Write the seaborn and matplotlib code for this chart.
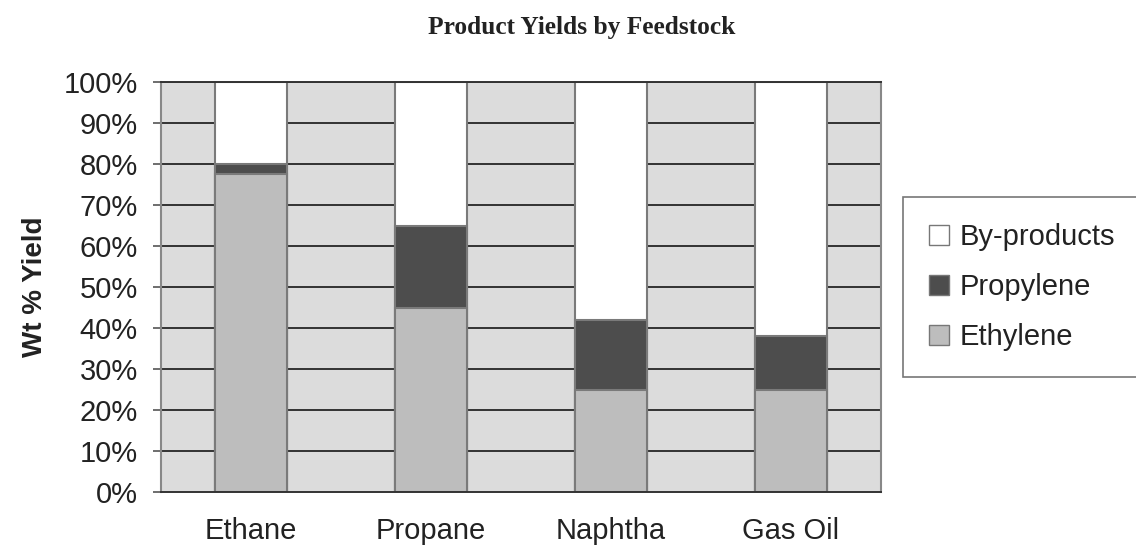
import matplotlib
matplotlib.use("Agg")
import matplotlib.pyplot as plt
import seaborn as sns
import pandas as pd
import numpy as np
from matplotlib.patches import Patch

feedstocks = ["Ethane", "Propane", "Naphtha", "Gas Oil"]
ethylene = [77.5, 45, 25, 25]
propylene = [2.5, 20, 17, 13]
byproducts = [20, 35, 58, 62]

sns.set_theme(style="white")
plt.rcParams['font.family'] = ['Liberation Sans', 'DejaVu Sans']

c_eth = "#bdbdbd"
c_pro = "#4d4d4d"
c_by = "#ffffff"

df = pd.DataFrame({"Feedstock": feedstocks,
                   "Ethylene": ethylene,
                   "Propylene": propylene,
                   "By-products": byproducts})
df["cum_pro"] = df["Ethylene"] + df["Propylene"]
df["cum_by"] = df["cum_pro"] + df["By-products"]

fig = plt.figure(figsize=(11.36, 5.45), dpi=100)
ax = fig.add_axes([161/1136, 1-492/545, 720/1136, 410/545])
ax.set_facecolor("#dcdcdc")

for y in np.arange(10, 101, 10):
    ax.axhline(y, color="#333333", lw=1.4, zorder=0.5)

kw = dict(width=0.4, edgecolor="#7a7a7a", linewidth=1.5, ax=ax, zorder=2, saturation=1)
sns.barplot(data=df, x="Feedstock", y="cum_by", color=c_by, **kw)
sns.barplot(data=df, x="Feedstock", y="cum_pro", color=c_pro, **kw)
sns.barplot(data=df, x="Feedstock", y="Ethylene", color=c_eth, **kw)

ax.set_xlim(-0.5, 3.5)
ax.set_ylim(0, 100)
ax.set_yticks(np.arange(0, 101, 10))
ax.set_yticklabels([f"{v}%" for v in range(0, 101, 10)], fontsize=21, color="#222222")
ax.set_xticks([0, 1, 2, 3])
ax.set_xticklabels(feedstocks, fontsize=21, color="#222222")
ax.set_xticks([-0.5, 0.5, 1.5, 2.5, 3.5], minor=True)
ax.tick_params(axis="x", which="major", length=0, pad=18)
ax.tick_params(axis="x", which="minor", length=5.5, width=1.2, color="#333333", direction="out")
ax.tick_params(axis="y", length=5.8, width=1.2, color="#555555", direction="out", left=True, pad=11)
ax.set_xlabel("")
ax.set_ylabel("Wt % Yield", fontsize=20, fontweight="bold", labelpad=11, color="#222222")

for s in ["left", "right"]:
    ax.spines[s].set_color("#888888")
    ax.spines[s].set_linewidth(1.5)
ax.spines["bottom"].set_color("#333333")
ax.spines["bottom"].set_linewidth(1.4)
ax.spines["top"].set_color("#333333")
ax.spines["top"].set_linewidth(1.4)

fig.text(582/1136, 1-34/545, "Product Yields by Feedstock", ha="center", va="baseline",
         fontsize=18.3, fontweight="bold", family=["Liberation Serif", "DejaVu Serif"], color="#222222")

handles = [Patch(facecolor=c_by, edgecolor="#777777", label="By-products"),
           Patch(facecolor=c_pro, edgecolor="#777777", label="Propylene"),
           Patch(facecolor=c_eth, edgecolor="#777777", label="Ethylene")]
leg = fig.legend(handles=handles, loc="upper left",
                 bbox_to_anchor=(903/1136, 1-197/545),
                 fontsize=21, frameon=True, fancybox=False, handlelength=0.69,
                 handleheight=0.69, handletextpad=0.35, labelspacing=0.75,
                 borderpad=0.9, borderaxespad=0)
leg.get_frame().set_edgecolor("#555555")
leg.get_frame().set_linewidth(1.2)
for t in leg.get_texts():
    t.set_color("#222222")

fig.savefig("out.png", dpi=100)
